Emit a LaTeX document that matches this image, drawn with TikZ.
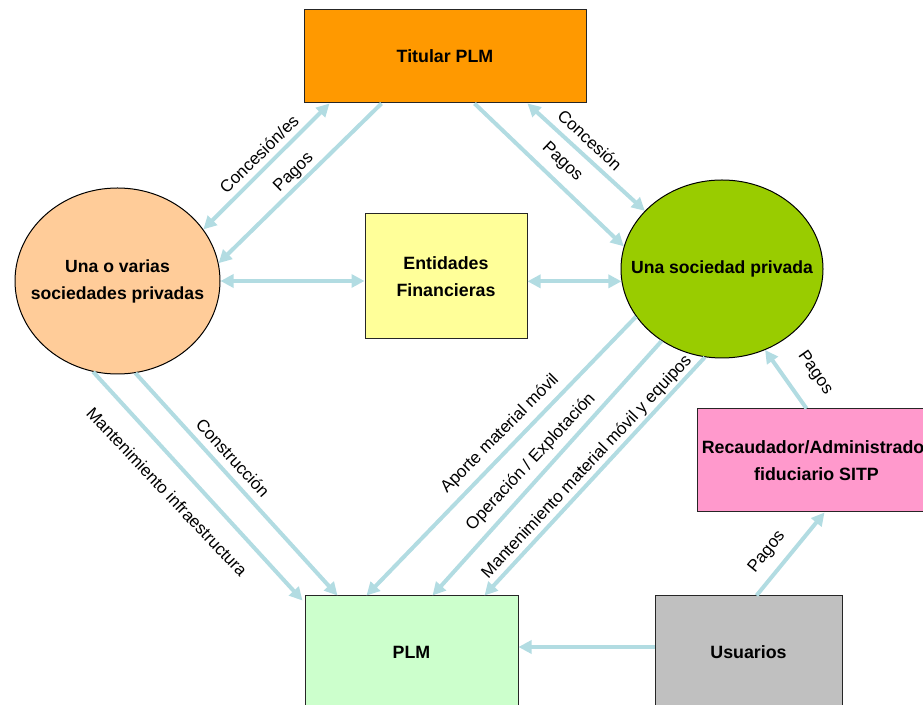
\documentclass[tikz,border=0pt]{standalone}
\usepackage{fontspec}
\setmainfont{Liberation Sans}
\usetikzlibrary{arrows.meta,shapes.geometric,calc}

\definecolor{flowblue}{RGB}{178,220,226}
\definecolor{titfill}{RGB}{255,153,0}
\definecolor{manyfill}{RGB}{255,204,153}
\definecolor{finfill}{RGB}{255,255,153}
\definecolor{onefill}{RGB}{153,204,0}
\definecolor{recfill}{RGB}{255,153,204}
\definecolor{plmfill}{RGB}{204,255,204}
\definecolor{usrfill}{RGB}{192,192,192}

\begin{document}
\begin{tikzpicture}[x=1pt,y=1pt,
  boxnode/.style={draw=black!85, line width=1pt, rectangle, inner sep=0pt,
    font=\bfseries\fontsize{17.8}{27}\selectfont, align=center},
  ovalnode/.style={draw=black, line width=1pt, ellipse, inner sep=0pt},
  ovaltext/.style={font=\bfseries\fontsize{17.6}{27}\selectfont, align=center, inner sep=0pt},
  tipshape/.tip={Triangle[length=13pt,width=13pt]},
  flow/.style={draw=flowblue, line width=4pt, -tipshape},
  twoway/.style={draw=flowblue, line width=4pt, tipshape-tipshape},
  lbl/.style={font=\fontsize{17}{20}\selectfont, inner sep=0pt}
]
\useasboundingbox (0,0) rectangle (923,704);
\clip (0,0) rectangle (923,704);

% boxes and ovals
\node[boxnode, fill=titfill, minimum width=282pt, minimum height=93pt] (tit) at (445,647.5) {Titular PLM};
\node[ovalnode, fill=manyfill, minimum width=205pt, minimum height=186pt] (lel) at (117.5,423) {};
\node[ovaltext] (lelt) at (lel.center) {Una o varias\\sociedades privadas};
\node[boxnode, fill=finfill, minimum width=162pt, minimum height=125pt] (ent) at (446,427.5) {Entidades\\Financieras};
\node[ovalnode, fill=onefill, minimum width=202pt, minimum height=178pt] (rel) at (722,435) {};
\node[ovaltext] (relt) at (rel.center) {Una sociedad privada};
\node[boxnode, fill=recfill, minimum width=239pt, minimum height=103pt] (rec) at (816.5,243.5) {Recaudador/Administrador\\fiduciario SITP};
\node[boxnode, fill=plmfill, minimum width=213pt, minimum height=112pt] (plm) at (411.5,52) {PLM};
\node[boxnode, fill=usrfill, minimum width=187pt, minimum height=112pt] (usu) at (748.5,52) {Usuarios};

% connectors around the holder
\draw[twoway] ($(tit.south west)+(26,0)$) -- (lel.31.7);
\draw[flow] ($(tit.south west)+(78,0)$) -- (lel.10.5);
\draw[flow] ($(tit.south west)+(171,0)$) -- (rel.167);
\draw[twoway] ($(tit.south west)+(224,0)$) -- (rel.143.8);

% links with the financing entities
\draw[twoway] (lel.east) -- (ent.west |- lel.east);
\draw[twoway] (ent.east |- rel.187) -- (rel.187);

% works and services towards the line
\draw[flow] (lel.-105) -- ($(plm.north west)+(-2,-5)$);
\draw[flow] (lel.-79.5) -- ($(plm.north west)+(33,0)$);
\draw[flow] (rel.209.5) -- ($(plm.north west)+(62,0)$);
\draw[flow] (rel.230.6) -- ($(plm.north west)+(128,0)$);
\draw[flow] (rel.259.2) -- ($(plm.north west)+(180,0)$);

% fare collection
\draw[flow] ($(rec.north west)+(110,0)$) -- (rel.-62);
\draw[flow] ($(usu.north west)+(102,0)$) -- ($(rec.south west)+(128,0)$);
\draw[flow] ($(usu.west)+(0,5)$) -- ($(plm.east)+(0,5)$);

% connector labels
\node[lbl, rotate=44.5] (l1) at (259,550) {Concesión/es};
\node[lbl, rotate=44.5] (l2) at (294,531) {Pagos};
\node[lbl, rotate=-43] (l3) at (590,564) {Concesión};
\node[lbl, rotate=-43.5] (l4) at (562,542) {Pagos};
\node[lbl, rotate=-46.6] (l5) at (167,212) {Mantenimiento infraestructura};
\node[lbl, rotate=-47.4] (l6) at (233,246) {Construcción};
\node[lbl, rotate=45.3] (l7) at (500,270) {Aporte material móvil};
\node[lbl, rotate=47] (l8) at (531,242) {Operación / Explotación};
\node[lbl, rotate=47] (l9) at (587,237) {Mantenimiento material móvil y equipos};
\node[lbl, rotate=-55] (l10) at (815,331) {Pagos};
\node[lbl, rotate=51] (l11) at (767,152) {Pagos};
\end{tikzpicture}
\end{document}
